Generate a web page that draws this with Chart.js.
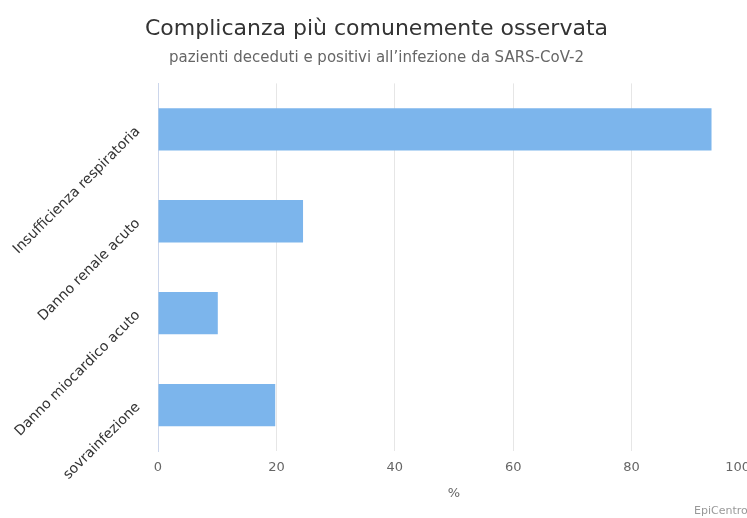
<!DOCTYPE html>
<html>
<head>
<meta charset="utf-8">
<script src="https://cdn.jsdelivr.net/npm/chart.js@4.4.1/dist/chart.umd.min.js"></script>
<style>
  html, body { margin: 0; padding: 0; background: #fff; overflow: hidden; }
  .wrap { position: relative; width: 750px; height: 518px; }
</style>
</head>
<body>
<div class="wrap"><canvas id="chart"></canvas></div>
<script>
const categories = ['Insufficienza respiratoria', 'Danno renale acuto', 'Danno miocardico acuto', 'sovrainfezione'];
const percentValues = [93.5, 24.5, 10.1, 19.8];
const xTicks = [0, 20, 40, 60, 80, 100];

// credits text in the bottom right corner
const credits = {
  id: 'credits',
  afterDraw(chart) {
    const ctx = chart.ctx;
    ctx.save();
    ctx.font = '11px "DejaVu Sans"';
    ctx.fillStyle = '#999999';
    ctx.textAlign = 'left';
    ctx.textBaseline = 'middle';
    ctx.fillText('EpiCentro', 694, 511);
    ctx.restore();
  }
};

new Chart(document.getElementById('chart'), {
  type: 'bar',
  data: {
    labels: categories,
    datasets: [{
      label: '%',
      data: percentValues,
      backgroundColor: '#7cb5ec',
      borderWidth: 0,
      categoryPercentage: 1,
      barPercentage: 0.46
    }]
  },
  options: {
    indexAxis: 'y',
    responsive: true,
    maintainAspectRatio: false,
    animation: false,
    // the 100 line sits on the right edge, its label is cut like in the original
    layout: { padding: { left: 3, right: 0, top: 16, bottom: 17 } },
    plugins: {
      legend: { display: false },
      tooltip: { enabled: false },
      title: {
        display: true,
        text: 'Complicanza più comunemente osservata',
        color: '#333333',
        font: { family: 'DejaVu Sans', size: 22, weight: 'normal' },
        padding: { top: 0, bottom: 7 }
      },
      subtitle: {
        display: true,
        text: 'pazienti deceduti e positivi all\u2019infezione da SARS-CoV-2',
        color: '#666666',
        font: { family: 'DejaVu Sans', size: 15 },
        padding: { top: 0, bottom: 16 }
      }
    },
    scales: {
      x: {
        min: 0,
        max: 100,
        afterBuildTicks(scale) { scale.ticks = xTicks.map(v => ({ value: v })); },
        afterFit(scale) {
          scale.height = 50;
          scale.paddingLeft = 0;
          scale.paddingRight = 0;
        },
        grid: { color: '#e6e6e6', drawTicks: false },
        border: { display: false },
        ticks: {
          color: '#666666',
          font: { family: 'DejaVu Sans', size: 13 },
          padding: 9,
          // last label is pushed inside the edge (figure spaces)
          callback: (v) => (v === 100 ? '100\u2007\u2007\u2007' : String(v))
        },
        title: { display: true, text: '%', color: '#666666', font: { family: 'DejaVu Sans', size: 13 }, padding: 0 }
      },
      y: {
        grid: { display: false, drawTicks: false },
        border: { display: true, color: '#ccd6eb', width: 1 },
        afterFit(scale) {
          scale.width = 155;
          scale.paddingTop = 0;
          scale.paddingBottom = 0;
        },
        ticks: {
          minRotation: 45,
          maxRotation: 45,
          color: '#333333',
          font: { family: 'DejaVu Sans', size: 14 },
          padding: 20
        }
      }
    }
  },
  plugins: [credits]
});
</script>
</body>
</html>
